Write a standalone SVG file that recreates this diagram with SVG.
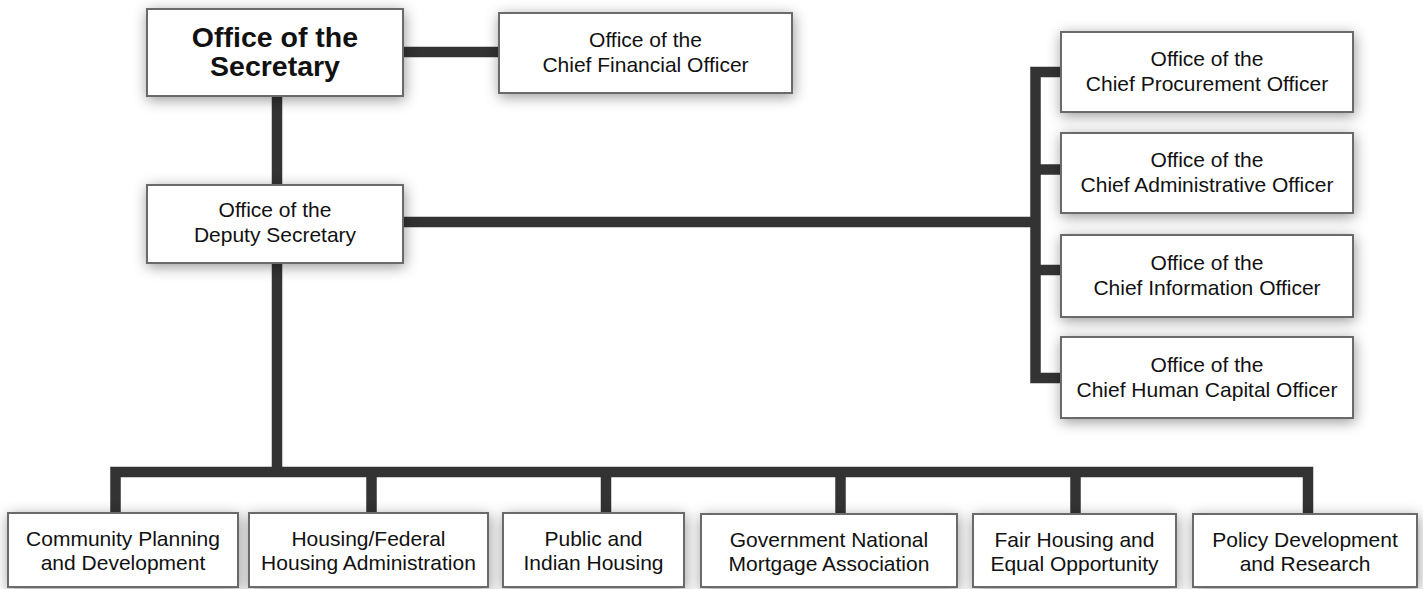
<svg xmlns="http://www.w3.org/2000/svg" width="1423" height="589" viewBox="0 0 1423 589">
<defs>
<filter id="sh" x="-20%" y="-30%" width="140%" height="170%">
<feDropShadow dx="1" dy="3" stdDeviation="7" flood-color="#000" flood-opacity="0.4"/>
</filter>
<style>
.box{fill:#fff;stroke:#6b6b6b;stroke-width:2;filter:url(#sh)}
.t{font-family:"Liberation Sans",Arial,sans-serif;font-size:21px;fill:#111;text-anchor:middle}
.b{font-family:"Liberation Sans",Arial,sans-serif;font-size:28.5px;font-weight:bold;fill:#111;text-anchor:middle}
.c{fill:none;stroke:#333;stroke-width:10.5;stroke-linejoin:miter;stroke-linecap:butt}
</style>
</defs>
<rect width="1423" height="589" fill="#fff"/>
<g id="connectors">
<path class="c" d="M403 52 H499"/>
<path class="c" d="M277 96 V185"/>
<path class="c" d="M403 222 H1035.5"/>
<path class="c" d="M1061 72 H1035.5 V378 H1061"/>
<path class="c" d="M1035.5 169.5 H1061"/>
<path class="c" d="M1035.5 270 H1061"/>
<path class="c" d="M277 263 V472"/>
<path class="c" d="M115.5 513 V472 H1308 V513"/>
<path class="c" d="M371.5 472 V513"/>
<path class="c" d="M606 472 V513"/>
<path class="c" d="M840.5 472 V513"/>
<path class="c" d="M1075.5 472 V513"/>
</g>
<g id="secretary">
<rect class="box" x="147" y="9" width="256" height="87"/>
<text class="b" x="275" y="47">Office of the</text>
<text class="b" x="275" y="76">Secretary</text>
</g>
<g id="cfo">
<rect class="box" x="499" y="13" width="293" height="80"/>
<text class="t" x="645.5" y="47">Office of the</text>
<text class="t" x="645.5" y="72">Chief Financial Officer</text>
</g>
<g id="deputy">
<rect class="box" x="147" y="185" width="256" height="78"/>
<text class="t" x="275" y="217">Office of the</text>
<text class="t" x="275" y="242">Deputy Secretary</text>
</g>
<g id="cpo">
<rect class="box" x="1061" y="32" width="292" height="80"/>
<text class="t" x="1207" y="66">Office of the</text>
<text class="t" x="1207" y="91">Chief Procurement Officer</text>
</g>
<g id="cao">
<rect class="box" x="1061" y="133" width="292" height="80"/>
<text class="t" x="1207" y="167">Office of the</text>
<text class="t" x="1207" y="192">Chief Administrative Officer</text>
</g>
<g id="cio">
<rect class="box" x="1061" y="235" width="292" height="82"/>
<text class="t" x="1207" y="270">Office of the</text>
<text class="t" x="1207" y="295">Chief Information Officer</text>
</g>
<g id="chco">
<rect class="box" x="1061" y="337" width="292" height="81"/>
<text class="t" x="1207" y="372">Office of the</text>
<text class="t" x="1207" y="397">Chief Human Capital Officer</text>
</g>
<g id="cpd">
<rect class="box" x="8" y="513" width="230" height="74"/>
<text class="t" x="123" y="546">Community Planning</text>
<text class="t" x="123" y="570">and Development</text>
</g>
<g id="fha">
<rect class="box" x="249" y="513" width="239" height="74"/>
<text class="t" x="368.5" y="546">Housing/Federal</text>
<text class="t" x="368.5" y="570">Housing Administration</text>
</g>
<g id="pih">
<rect class="box" x="503" y="513" width="181" height="74"/>
<text class="t" x="593.5" y="546">Public and</text>
<text class="t" x="593.5" y="570">Indian Housing</text>
</g>
<g id="gnma">
<rect class="box" x="701" y="514" width="256" height="73"/>
<text class="t" x="829" y="547">Government National</text>
<text class="t" x="829" y="571">Mortgage Association</text>
</g>
<g id="fheo">
<rect class="box" x="973" y="514" width="203" height="73"/>
<text class="t" x="1074.5" y="547">Fair Housing and</text>
<text class="t" x="1074.5" y="571">Equal Opportunity</text>
</g>
<g id="pdr">
<rect class="box" x="1193" y="514" width="224" height="73"/>
<text class="t" x="1305" y="547">Policy Development</text>
<text class="t" x="1305" y="571">and Research</text>
</g>
</svg>
